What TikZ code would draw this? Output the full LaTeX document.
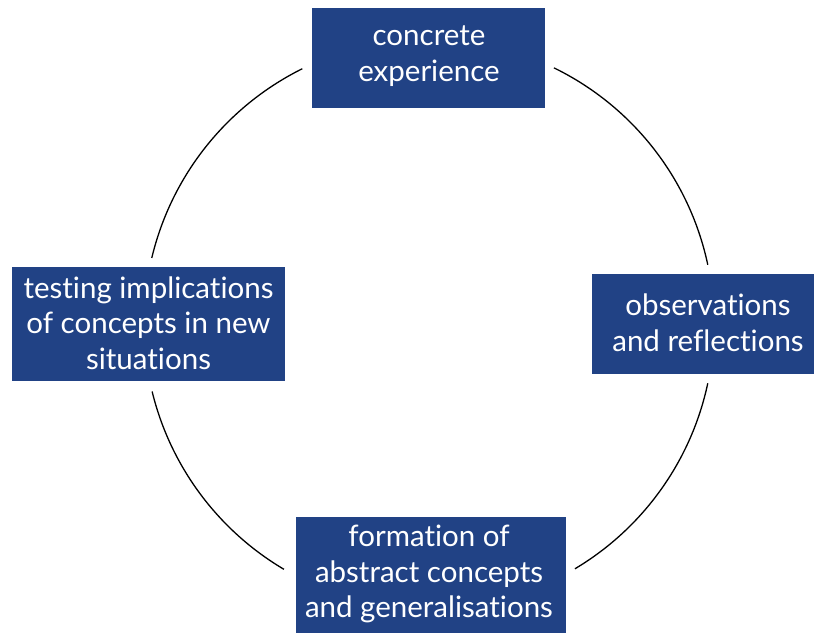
\documentclass[tikz,border=0pt]{standalone}
\usepackage{fontspec}
\setmainfont{Lato}[Ligatures=NoCommon]
\definecolor{kolbblue}{RGB}{33,66,133}
\begin{document}
\begin{tikzpicture}[x=1pt,y=1pt,
  kbox/.style={fill=kolbblue, draw=none, inner sep=0pt, anchor=center},
  ktext/.style={text=white, align=center, font=\fontsize{29.5}{35.5}\selectfont, inner sep=0pt},
  cyc/.style={line width=1.3pt, black}]
\useasboundingbox (0,0) rectangle (814,633);
\coordinate (c) at (429,309);
% boxes (y flipped: tikz y = 633 - image y)
\node[kbox, minimum width=233, minimum height=100] (ce) at (428.5,575) {};
\node[ktext] (cet) at (429,577) {concrete\\experience};
\node[kbox, minimum width=222, minimum height=100] (or) at (703,309) {};
\node[ktext] (ort) at (708,310) {observations\\and reflections};
\node[kbox, minimum width=270, minimum height=116] (fa) at (431,58) {};
\node[ktext] (fat) at (429,59) {formation of\\abstract concepts\\and generalisations};
\node[kbox, minimum width=273, minimum height=114] (ti) at (148.5,309) {};
\node[ktext] (tit) at (148.5,310) {testing implications\\of concepts in new\\situations};
% cycle arcs
\draw[cyc] ([shift={(116.4:285)}]c) arc[start angle=116.4, end angle=166.6, radius=285];
\draw[cyc] ([shift={(193.7:285)}]c) arc[start angle=193.7, end angle=239.4, radius=285];
\draw[cyc] ([shift={(300.8:285)}]c) arc[start angle=300.8, end angle=348, radius=285];
\draw[cyc] ([shift={(12:285)}]c) arc[start angle=12, end angle=64, radius=285];
\end{tikzpicture}
\end{document}
